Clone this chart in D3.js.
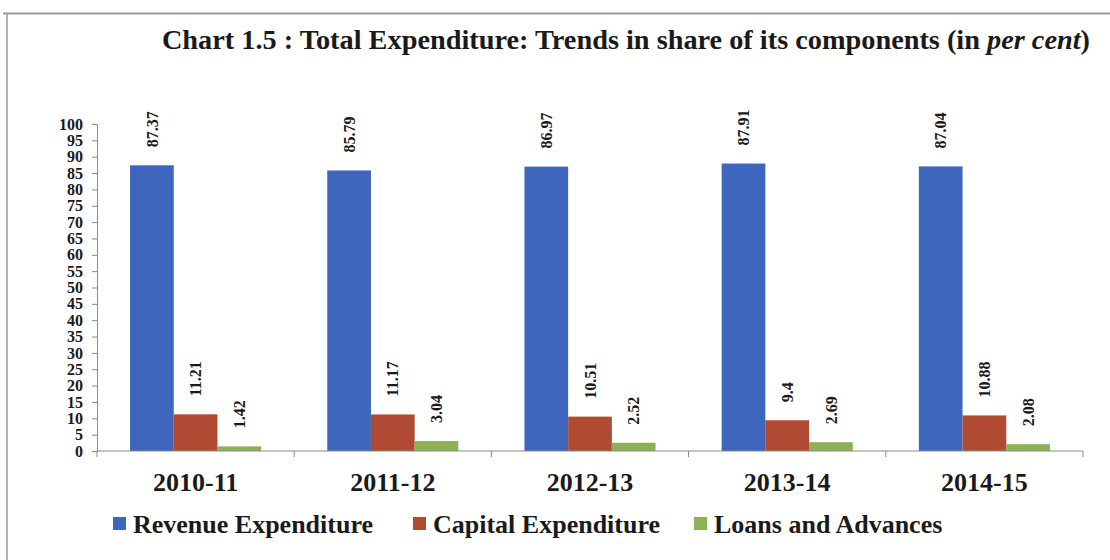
<!DOCTYPE html>
<html>
<head>
<meta charset="utf-8">
<script src="https://cdn.jsdelivr.net/npm/d3@7"></script>
<style>
  html, body { margin: 0; padding: 0; background: #fff; }
  svg { display: block; }
</style>
</head>
<body>
<svg id="chart" width="1110" height="560"></svg>
<script>
// Financial years on the category axis
const years = ["2010-11", "2011-12", "2012-13", "2013-14", "2014-15"];
// Component series (share of total expenditure, per cent)
const seriesNames = ["Revenue Expenditure", "Capital Expenditure", "Loans and Advances"];
const revenueExp = [87.37, 85.79, 86.97, 87.91, 87.04];
const capitalExp = [11.21, 11.17, 10.51, 9.4, 10.88];
const loansAdv   = [1.42, 3.04, 2.52, 2.69, 2.08];
const yTicks = d3.range(0, 101, 5);
const colors = ["#3e66bd", "#b04a33", "#8db255"];

const seriesValues = [revenueExp, capitalExp, loansAdv];
const FONT = "'Liberation Serif', 'Times New Roman', Times, 'DejaVu Serif', serif";

const svg = d3.select("#chart")
  .attr("font-family", FONT).attr("font-weight", "bold");
const plot = { left: 97, right: 1083, top: 124, bottom: 451 };

// Page frame lines
svg.append("line").attr("x1", 3).attr("x2", 1110).attr("y1", 13.5).attr("y2", 13.5)
  .attr("stroke", "#9a9a9a").attr("stroke-width", 2);
svg.append("line").attr("x1", 7).attr("x2", 7).attr("y1", 13).attr("y2", 560)
  .attr("stroke", "#9a9a9a").attr("stroke-width", 1.5);

// Title
const title = svg.append("text").attr("x", 1090).attr("y", 49)
  .attr("text-anchor", "end").attr("font-size", 28.3).attr("fill", "#1a1a1a");
title.append("tspan").text("Chart 1.5 : Total Expenditure: Trends in share of its components (in ");
title.append("tspan").attr("font-style", "italic").text("per cent");
title.append("tspan").text(")");

const x = d3.scaleBand().domain(years).range([plot.left, plot.right]).padding(0);
const xInner = d3.scaleBand().domain(seriesNames).range([0, x.bandwidth()])
  .paddingInner(0).paddingOuter(0.756);
const y = d3.scaleLinear().domain([0, 100]).range([plot.bottom, plot.top]);

// Y axis
const yAxis = svg.append("g").attr("transform", `translate(${plot.left},0)`)
  .call(d3.axisLeft(y).tickValues(yTicks).tickSize(5).tickPadding(9))
  .attr("font-family", FONT).attr("font-size", 16);
yAxis.select(".domain").attr("stroke", "#8a8a8a");
yAxis.selectAll(".tick line").attr("stroke", "#8a8a8a");
yAxis.selectAll(".tick text").attr("fill", "#1a1a1a");

// Bars with rotated value labels
const groups = svg.append("g").selectAll("g").data(years).join("g")
  .attr("transform", d => `translate(${x(d)},0)`);

groups.each(function(yr, i) {
  const g = d3.select(this);
  seriesNames.forEach((s, k) => {
    const v = seriesValues[k][i];
    g.append("rect")
      .attr("x", xInner(s)).attr("width", xInner.bandwidth())
      .attr("y", y(v)).attr("height", y(0) - y(v))
      .attr("fill", colors[k]);
    const cx = xInner(s) + xInner.bandwidth() / 2;
    g.append("text")
      .attr("transform", `translate(${cx},${y(v) - 18}) rotate(-90)`)
      .attr("dy", "0.35em")
      .attr("font-size", 16).attr("fill", "#1a1a1a")
      .text(v);
  });
});

// X axis
const xAxis = svg.append("g").attr("transform", `translate(0,${plot.bottom})`);
xAxis.append("line").attr("x1", plot.left).attr("x2", plot.right)
  .attr("stroke", "#8a8a8a");
const boundaries = years.map(d => x(d)).concat([plot.right]);
xAxis.selectAll("line.tk").data(boundaries).join("line").attr("class", "tk")
  .attr("x1", d => d).attr("x2", d => d).attr("y1", 0).attr("y2", 6)
  .attr("stroke", "#8a8a8a");
xAxis.selectAll("text").data(years).join("text")
  .attr("x", d => x(d) + x.bandwidth() / 2).attr("y", 40)
  .attr("text-anchor", "middle").attr("font-size", 26).attr("fill", "#1a1a1a")
  .text(d => d);

// Legend
const legendX = [113, 413, 694];
const legend = svg.append("g").selectAll("g").data(seriesNames).join("g")
  .attr("transform", (d, i) => `translate(${legendX[i]},517)`);
legend.append("rect").attr("width", 13).attr("height", 13)
  .attr("fill", (d, i) => colors[i]);
legend.append("text").attr("x", 20).attr("y", 6.5).attr("dy", "0.35em")
  .attr("font-size", 26).attr("fill", "#1a1a1a").text(d => d);
</script>
</body>
</html>
